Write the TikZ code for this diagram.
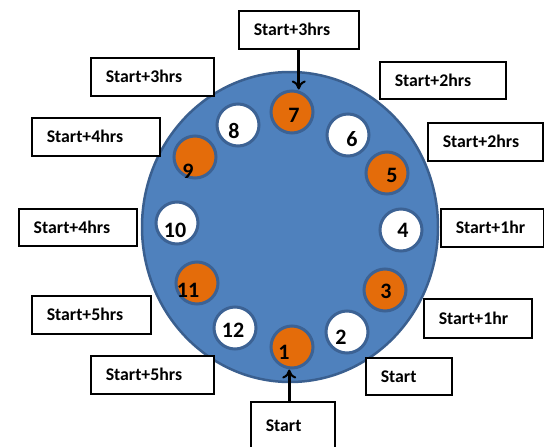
\documentclass[tikz,border=0pt]{standalone}
\usepackage{fontspec}
\setmainfont{Carlito}
\usetikzlibrary{arrows.meta,shapes.geometric}
\definecolor{dialblue}{RGB}{79,129,189}
\definecolor{dialedge}{RGB}{58,95,143}
\definecolor{rimblue}{RGB}{60,98,148}
\definecolor{slotorange}{RGB}{228,108,10}
\tikzset{
  lbl/.style={draw=black, line width=1.5pt, fill=white, anchor=north west,
    inner xsep=15pt, inner ysep=0pt, align=left, font=\fontsize{17.8}{20}\selectfont\bfseries},
  slot/.style={circle, draw=rimblue, line width=3pt, minimum size=42pt, inner sep=0pt},
  oslot/.style={slot, fill=slotorange},
  wslot/.style={slot, fill=white},
  num/.style={font=\fontsize{22}{25}\selectfont\bfseries, inner sep=0pt},
  arr/.style={-{To[length=9pt,width=14pt,line width=2pt]}, line width=2.8pt, black}
}
\begin{document}
\begin{tikzpicture}[x=1pt,y=-1pt]
\useasboundingbox (0,0) rectangle (544,447);
\clip (0,0) rectangle (544,447);
% dial
\node[ellipse, draw=dialedge, line width=2.5pt, fill=dialblue, minimum width=296pt, minimum height=310pt, inner sep=0pt] (dial) at (290,227) {};
% slots
\node[oslot] (c7) at (292,112) {};
\node[wslot] (c8) at (238,125) {};
\node[wslot] (c6) at (348,135) {};
\node[oslot] (c9) at (195,157) {};
\node[oslot] (c5) at (387,173) {};
\node[wslot] (c10) at (177,223) {};
\node[wslot] (c4) at (401,230) {};
\node[oslot] (c11) at (197,283) {};
\node[oslot] (c3) at (385,290) {};
\node[wslot] (c12) at (235,328) {};
\node[wslot] (c2) at (347,332) {};
\node[oslot] (c1) at (292,347) {};
% numbers
\node[num] (n7) at (294,115) {7};
\node[num] (n8) at (234,131) {8};
\node[num] (n6) at (352,139) {6};
\node[num] (n9) at (188,171) {9};
\node[num] (n5) at (392,175) {5};
\node[num] (n10) at (175,230) {10};
\node[num] (n4) at (403,230) {4};
\node[num] (n11) at (188,290) {11};
\node[num] (n3) at (386,291) {3};
\node[num] (n12) at (233,330) {12};
\node[num] (n2) at (341,337) {2};
\node[num] (n1) at (284,352) {1};
% label boxes
\node[lbl, text width=90pt, minimum height=38pt] (top) at (238,10) {Start+3hrs};
\node[lbl, text width=93pt, minimum height=38pt] (l3) at (90,57) {Start+3hrs};
\node[lbl, text width=98pt, minimum height=38pt] (l4a) at (31,117) {Start+4hrs};
\node[lbl, text width=88pt, minimum height=37pt] (l4b) at (18,208) {Start+4hrs};
\node[lbl, text width=89pt, minimum height=38pt] (l5a) at (31,295) {Start+5hrs};
\node[lbl, text width=93pt, minimum height=38pt] (l5b) at (90,355) {Start+5hrs};
\node[lbl, text width=96pt, minimum height=37pt] (r2a) at (379,61) {Start+2hrs};
\node[lbl, text width=85pt, minimum height=38pt] (r2b) at (427,122) {Start+2hrs};
\node[lbl, text width=73pt, minimum height=38pt] (r1a) at (440,208) {Start+1hr};
\node[lbl, text width=78pt, minimum height=39pt] (r1b) at (423,298) {Start+1hr};
\node[lbl, text width=56pt, minimum height=37pt] (sr) at (365,357) {Start};
\node[lbl, text width=54pt, minimum height=48pt] (sb) at (250,401) {Start};
% arrows
\draw[arr] (top.south) -- (top.south |- c7.north);
\draw[arr] ([xshift=-3.5pt]sb.north) -- ([xshift=-3.5pt]sb.north |- c1.south);
\end{tikzpicture}
\end{document}
